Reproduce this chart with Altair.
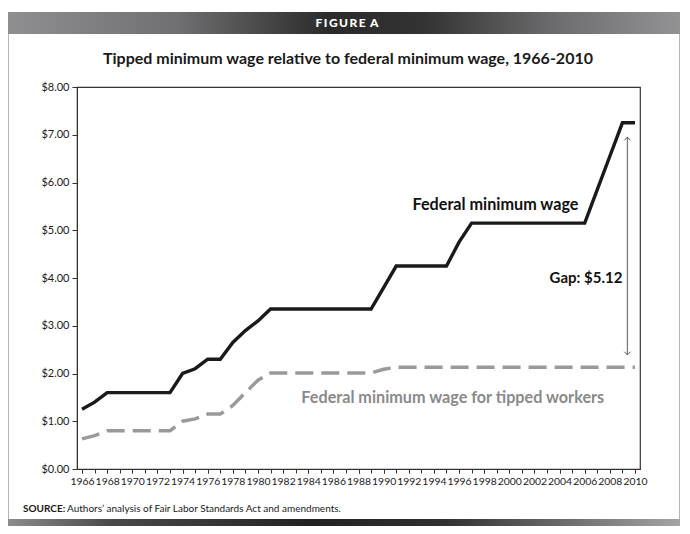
import altair as alt
import pandas as pd

years = list(range(1966, 2011))
label_years = list(range(1966, 2011, 2))
federal = [1.25, 1.40, 1.60, 1.60, 1.60, 1.60, 1.60, 1.60, 2.00, 2.10, 2.30, 2.30, 2.65, 2.90, 3.10,
           3.35, 3.35, 3.35, 3.35, 3.35, 3.35, 3.35, 3.35, 3.35,
           3.80,
           4.25, 4.25, 4.25, 4.25, 4.25,
           4.75,
           5.15, 5.15, 5.15, 5.15, 5.15, 5.15, 5.15, 5.15, 5.15, 5.15,
           5.85, 6.55, 7.25, 7.25]
tipped = [0.63, 0.70, 0.80, 0.80, 0.80, 0.80, 0.80, 0.80, 1.00, 1.05, 1.15, 1.15, 1.33, 1.60, 1.86,
          2.01, 2.01, 2.01, 2.01, 2.01, 2.01, 2.01, 2.01, 2.01,
          2.09] + [2.13] * 20

y_ticks = [0, 1, 2, 3, 4, 5, 6, 7, 8]

title_text = "Tipped minimum wage relative to federal minimum wage, 1966-2010"
header_text = "F\u2009I\u2009G\u2009U\u2009R\u2009E\u00a0\u2009A"
source_bold = "SOURCE:"
source_text = "Authors\u2019 analysis of Fair Labor Standards Act and amendments."

fed_label = "Federal minimum wage"
tip_label = "Federal minimum wage for tipped workers"
gap_label = "Gap: $5.12"

# annotation anchors in data units
fed_label_pos = (1998.9, 5.53)
tip_label_pos = (1995.5, 1.49)
gap_label_pos = (2009.0, 4.0)
arrow_x = 2009.4
arrow_top = 6.95
arrow_bottom = 2.39

W, H = 563, 382
PL, PT = 77, 87
FONT = "Lato"

df = pd.DataFrame({"year": years, "federal": federal, "tipped": tipped})
one = pd.DataFrame({"k": [0]})

xscale = alt.Scale(domain=[1965.6, 2010.4], nice=False, zero=False)
yscale = alt.Scale(domain=[0, 8], nice=False)

xaxis_labels = alt.Axis(values=label_years, format="d", labelOverlap=False, grid=False, tickSize=4,
                        labelPadding=3, title=None, labelFont=FONT, labelFontSize=10.4,
                        labelColor="#1a1a1a", domainColor="#333333", tickColor="#333333",
                        labelFlush=False, orient="bottom")
xaxis_ticks = alt.Axis(values=years, labels=False, grid=False, tickSize=4, title=None,
                       domainColor="#333333", tickColor="#333333", orient="bottom")
yaxis = alt.Axis(values=y_ticks, format="$.2f", grid=False, tickSize=5, labelPadding=3,
                 title=None, labelFont=FONT, labelFontSize=11, labelColor="#1a1a1a",
                 domainColor="#333333", tickColor="#333333", labelOverlap=False)

base = alt.Chart(df)
fed_line = base.mark_line(color="#1a1a1a", strokeWidth=3.4, strokeJoin="miter").encode(
    x=alt.X("year:Q", scale=xscale, axis=xaxis_labels),
    y=alt.Y("federal:Q", scale=yscale, axis=yaxis),
)
tip_line = base.mark_line(color="#9a9a9a", strokeWidth=3.5, strokeDash=[18, 8]).encode(
    x=alt.X("year:Q", scale=xscale, axis=xaxis_ticks),
    y=alt.Y("tipped:Q", scale=yscale),
)

ann = pd.DataFrame({
    "x": [fed_label_pos[0], tip_label_pos[0]],
    "y": [fed_label_pos[1], tip_label_pos[1]],
    "t": [fed_label, tip_label],
    "c": ["#111111", "#8a8a8a"],
})
ann_text = alt.Chart(ann).mark_text(font=FONT, fontSize=16.2, fontWeight="bold", align="center",
                                     baseline="middle").encode(
    x=alt.X("x:Q", scale=xscale, axis=None), y=alt.Y("y:Q", scale=yscale),
    text="t:N", color=alt.Color("c:N", scale=None))

gap_df = pd.DataFrame({"x": [gap_label_pos[0]], "y": [gap_label_pos[1]], "t": [gap_label]})
gap_text = alt.Chart(gap_df).mark_text(font=FONT, fontSize=15, fontWeight="bold", align="right",
                                        baseline="middle", color="#111111").encode(
    x=alt.X("x:Q", scale=xscale, axis=None), y=alt.Y("y:Q", scale=yscale), text="t:N")

arrow_df = pd.DataFrame({"x": [arrow_x], "y": [arrow_top], "y2": [arrow_bottom]})
arrow_rule = alt.Chart(arrow_df).mark_rule(color="#7a7a7a", strokeWidth=1.3).encode(
    x=alt.X("x:Q", scale=xscale, axis=None), y=alt.Y("y:Q", scale=yscale), y2="y2:Q")
head_up = alt.Chart(arrow_df).mark_point(shape="M -1 1 L 0 0 L 1 1", filled=False, size=40,
                                          color="#555555", strokeWidth=1, opacity=1).encode(
    x=alt.X("x:Q", scale=xscale, axis=None), y=alt.Y("y:Q", scale=yscale))
head_down = alt.Chart(arrow_df).mark_point(shape="M -1 -1 L 0 0 L 1 -1", filled=False, size=40,
                                            color="#555555", strokeWidth=1, opacity=1).encode(
    x=alt.X("x:Q", scale=xscale, axis=None), y=alt.Y("y2:Q", scale=yscale))

# page decorations (pixel positions relative to the plot origin)
header_grad = alt.Gradient(gradient="linear", x1=0, x2=1, y1=0, y2=0, stops=[
    alt.GradientStop(offset=0, color="#8f8f91"),
    alt.GradientStop(offset=0.25, color="#707072"),
    alt.GradientStop(offset=0.48, color="#2a2a2a"),
    alt.GradientStop(offset=0.62, color="#333333"),
    alt.GradientStop(offset=0.82, color="#6e6e70"),
    alt.GradientStop(offset=1, color="#929294"),
])
footer_grad = alt.Gradient(gradient="linear", x1=0, x2=1, y1=0, y2=0, stops=[
    alt.GradientStop(offset=0, color="#8c8c8c"),
    alt.GradientStop(offset=0.15, color="#4a4a4a"),
    alt.GradientStop(offset=0.45, color="#222222"),
    alt.GradientStop(offset=0.65, color="#303030"),
    alt.GradientStop(offset=1, color="#a4a4a4"),
])
header = alt.Chart(one).mark_rect(color=header_grad).encode(
    x=alt.value(8 - PL), x2=alt.value(680 - PL), y=alt.value(12 - PT), y2=alt.value(34 - PT))
footer = alt.Chart(one).mark_rect(color=footer_grad).encode(
    x=alt.value(8 - PL), x2=alt.value(680 - PL), y=alt.value(519 - PT), y2=alt.value(526 - PT))
left_border = alt.Chart(one).mark_rule(color="#b5b5b5", strokeWidth=1).encode(
    x=alt.value(8.5 - PL), y=alt.value(34 - PT), y2=alt.value(519 - PT))
right_border = alt.Chart(one).mark_rule(color="#b5b5b5", strokeWidth=1).encode(
    x=alt.value(679.5 - PL), y=alt.value(34 - PT), y2=alt.value(519 - PT))
header_txt = alt.Chart(one).mark_text(font=FONT, fontSize=12, fontWeight=900, color="white",
                                       align="center", baseline="middle").encode(
    x=alt.value(347 - PL), y=alt.value(23 - PT), text=alt.value(header_text))
title_txt = alt.Chart(one).mark_text(font=FONT, fontSize=16, fontWeight="bold", color="#1a1a1a",
                                      align="center", baseline="middle").encode(
    x=alt.value(348 - PL), y=alt.value(59 - PT), text=alt.value(title_text))
src_b = alt.Chart(one).mark_text(font=FONT, fontSize=10, fontWeight="bold", color="#1a1a1a",
                                  align="left", baseline="middle").encode(
    x=alt.value(23 - PL), y=alt.value(509 - PT), text=alt.value(source_bold))
src_t = alt.Chart(one).mark_text(font=FONT, fontSize=10, color="#1a1a1a",
                                  align="left", baseline="middle").encode(
    x=alt.value(67 - PL), y=alt.value(509 - PT), text=alt.value(source_text))

chart = alt.layer(
    header, footer, left_border, right_border, header_txt, title_txt, src_b, src_t,
    tip_line, fed_line, arrow_rule, head_up, head_down, ann_text, gap_text,
).resolve_axis(x="independent").properties(
    width=W, height=H,
    autosize=alt.AutoSizeParams(type="none"),
    padding={"left": PL, "top": PT, "right": 690 - PL - W, "bottom": 534 - PT - H},
    background="white",
).configure_view(stroke="#333333", strokeWidth=1.2).configure_axis(labelOverlap=False)

chart.save("out.html", embed_options={"renderer": "svg", "actions": False})
